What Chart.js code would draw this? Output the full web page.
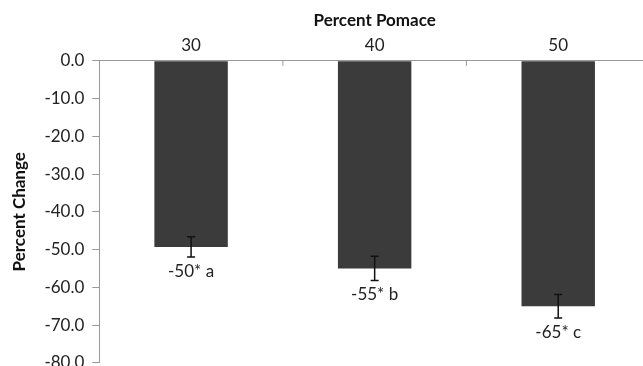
<!DOCTYPE html>
<html>
<head>
<meta charset="utf-8">
<script src="https://cdn.jsdelivr.net/npm/chart.js@4/dist/chart.umd.min.js"></script>
<style>
  html, body { margin: 0; padding: 0; background: #fff; overflow: hidden; }
  #wrap { width: 650px; height: 381px; }
</style>
</head>
<body>
<div id="wrap"><canvas id="pomaceChart" width="650" height="381"></canvas></div>
<script>
const categories = ["30", "40", "50"];
const percentChange = [-49.3, -55.0, -65.0];
const errorSize = [2.7, 3.2, 3.1];
const barLabels = ["-50* a", "-55* b", "-65* c"];
const yTicks = [0, -10, -20, -30, -40, -50, -60, -70, -80];

const fontFamily = "Lato, 'Open Sans', sans-serif";

// error bars + the letters under each bar
const errorBarPlugin = {
    id: "errorBars",
    afterDatasetsDraw(chart) {
        const ctx = chart.ctx;
        const meta = chart.getDatasetMeta(0);
        const y = chart.scales.y;
        ctx.save();
        ctx.strokeStyle = "#111";
        ctx.lineWidth = 1.5;
        meta.data.forEach((bar, i) => {
            const v = percentChange[i];
            const top = y.getPixelForValue(v + errorSize[i]);
            const bottom = y.getPixelForValue(v - errorSize[i]);
            ctx.beginPath();
            ctx.moveTo(bar.x, top);
            ctx.lineTo(bar.x, bottom);
            ctx.moveTo(bar.x - 4, top);
            ctx.lineTo(bar.x + 4, top);
            ctx.moveTo(bar.x - 4, bottom);
            ctx.lineTo(bar.x + 4, bottom);
            ctx.stroke();

            ctx.fillStyle = "#222";
            ctx.font = "17px " + fontFamily;
            ctx.textAlign = "center";
            ctx.textBaseline = "top";
            ctx.fillText(barLabels[i], bar.x, bottom + 6);
        });

        // small inside ticks between categories on the top axis
        const x = chart.scales.x;
        ctx.strokeStyle = "#999";
        ctx.lineWidth = 1;
        for (let i = 1; i < categories.length; i++) {
            const px = (x.getPixelForValue(i - 1) + x.getPixelForValue(i)) / 2;
            ctx.beginPath();
            ctx.moveTo(px, chart.chartArea.top);
            ctx.lineTo(px, chart.chartArea.top + 5);
            ctx.stroke();
        }
        ctx.restore();
    },
};

new Chart(document.getElementById("pomaceChart"), {
    type: "bar",
    data: {
        labels: categories,
        datasets: [
            {
                data: percentChange,
                backgroundColor: "#3b3b3b",
                borderWidth: 0,
                categoryPercentage: 0.8,
                barPercentage: 0.5,
            },
        ],
    },
    options: {
        responsive: false,
        animation: false,
        layout: { padding: { top: 10, left: 9, right: 0, bottom: 0 } },
        plugins: {
            legend: { display: false },
            tooltip: { enabled: false },
        },
        scales: {
            x: {
                position: "top",
                grid: { display: false, drawTicks: false },
                border: { color: "#999", width: 1 },
                ticks: { color: "#222", font: { size: 17, family: fontFamily }, padding: 5 },
                title: {
                    display: true,
                    text: "Percent Pomace",
                    color: "#111",
                    font: { size: 17, weight: "bold", family: fontFamily },
                    padding: { top: 0, bottom: 0 },
                },
            },
            y: {
                min: -80,
                max: 0,
                afterBuildTicks: (axis) => {
                    axis.ticks = yTicks.map((v) => ({ value: v }));
                },
                grid: {
                    drawOnChartArea: false,
                    drawTicks: true,
                    tickLength: 7,
                    color: "#999",
                },
                border: { color: "#999", width: 1 },
                ticks: {
                    color: "#222",
                    font: { size: 17, family: fontFamily },
                    padding: 8,
                    callback: (v) => Number(v).toFixed(1),
                },
                title: {
                    display: true,
                    text: "Percent Change",
                    color: "#111",
                    font: { size: 17, weight: "bold", family: fontFamily },
                    padding: { top: 0, bottom: 7 },
                },
            },
        },
    },
    plugins: [errorBarPlugin],
});
</script>
</body>
</html>
